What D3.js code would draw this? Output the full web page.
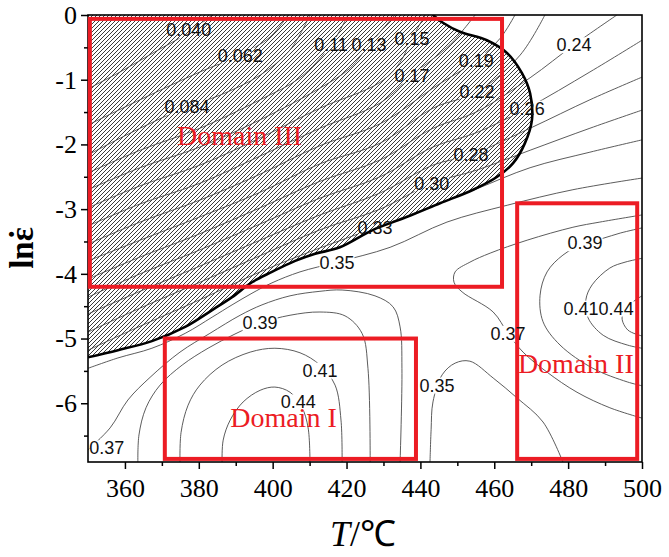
<!DOCTYPE html>
<html><head><meta charset="utf-8">
<script src="https://cdn.jsdelivr.net/npm/d3@7"></script>
<style>body{margin:0;background:#fff}</style>
</head><body>
<svg id="chart" width="669" height="557"></svg>
<script>
// ---- axes ----
const xDomain = [350, 500];
const yDomain = [0, -6.908];
const xTicks = [360, 380, 400, 420, 440, 460, 480, 500];
const xMinor = [370, 390, 410, 430, 450, 470, 490];
const yTicks = [0, -1, -2, -3, -4, -5, -6];
const yMinor = [-0.5, -1.5, -2.5, -3.5, -4.5, -5.5, -6.5];

// ---- contour lines (T, ln strain rate) ----
const c040 = [[350,-1.14],[358.7,-0.88],[368.1,-0.57],[377.6,-0.26],[383.6,0]];
const c062 = [[350,-1.70],[364.1,-1.31],[380.3,-0.88],[391.2,-0.62],[399.3,-0.34],[404.2,0]];
const c084 = [[350,-2.16],[364.1,-1.75],[376.8,-1.42],[385.7,-1.24],[396.6,-0.93],[404.7,-0.54],[410.1,0]];
const c106 = [[350,-2.44],[364.1,-2.09],[380.3,-1.75],[396.6,-1.31],[407.4,-0.97],[415.8,-0.46],[420.4,0]];
const c128 = [[350,-2.70],[364.1,-2.36],[380.3,-2.04],[396.6,-1.62],[412.8,-1.13],[421.0,-0.82],[426.1,-0.46],[433.1,0]];
const c150 = [[350,-2.98],[364.1,-2.64],[380.3,-2.32],[396.6,-1.90],[412.8,-1.44],[429.1,-1.04],[434.5,-0.73],[437.7,-0.36],[441.3,0]];
const c172 = [[350,-3.26],[364.1,-2.92],[380.3,-2.60],[396.6,-2.18],[412.8,-1.75],[429.1,-1.36],[437.7,-0.93],[448.0,-0.46],[454.8,0]];
const c194 = [[350,-3.54],[364.1,-3.20],[380.3,-2.86],[396.6,-2.46],[412.8,-2.02],[429.1,-1.68],[443.4,-1.13],[455.1,-0.70],[461.6,-0.36],[465.6,0]];
const c216 = [[350,-3.80],[364.1,-3.48],[380.3,-3.12],[396.6,-2.74],[412.8,-2.30],[429.1,-1.98],[443.4,-1.44],[455.3,-1.19],[467.0,-0.62],[473.7,0]];
const c238 = [[350,-4.08],[364.1,-3.74],[380.3,-3.38],[396.6,-2.98],[412.8,-2.57],[429.1,-2.24],[443.4,-1.75],[455.1,-1.50],[469.7,-0.97],[481.6,-0.46],[493.2,0]];
const c260 = [[350,-4.36],[364.1,-4.00],[380.3,-3.63],[396.6,-3.23],[412.8,-2.83],[429.1,-2.50],[443.4,-2.04],[455.1,-1.82],[468.9,-1.44],[485.9,-0.88],[500,-0.39]];
const c282 = [[350,-4.62],[364.1,-4.27],[380.3,-3.88],[396.6,-3.48],[412.8,-3.09],[429.1,-2.75],[443.4,-2.32],[453.7,-2.16],[469.7,-1.75],[485.9,-1.31],[500,-0.96]];
const c304 = [[350,-4.90],[364.1,-4.53],[380.3,-4.13],[396.6,-3.72],[412.8,-3.32],[429.1,-3.00],[443.1,-2.60],[455.1,-2.40],[469.7,-2.09],[485.9,-1.75],[500,-1.47]];
const c326 = [[350,-5.18],[364.1,-4.81],[380.3,-4.40],[396.6,-3.97],[412.8,-3.60],[427.7,-3.29],[443.4,-2.95],[455.1,-2.69],[469.7,-2.36],[485.9,-2.12],[500,-1.93]];
const c348a = [[350,-5.46],[358.1,-5.30],[367.3,-5.15],[376.3,-4.92],[383.6,-4.67],[389.0,-4.48],[394.4,-4.30],[399.8,-4.14],[407.4,-3.97],[417.4,-3.82],[431.8,-3.59],[447.2,-3.20],[463.5,-2.94],[481.3,-2.70],[500,-2.52]];
const c348b = [[442.6,-6.91],[442.9,-6.41],[443.4,-5.98],[445.9,-5.56],[449.4,-5.38],[453.4,-5.35],[459.7,-5.61],[466.2,-5.92],[473.2,-6.29],[478.6,-6.91]];
const c370a = [[350,-6.72],[356.0,-6.38],[360.8,-5.95],[366.8,-5.60],[374.9,-5.21],[383.0,-4.92],[391.2,-4.64],[397.1,-4.48],[404.7,-4.34],[412.8,-4.27],[418.8,-4.25],[427.7,-4.34],[432.6,-4.51],[434.5,-4.82],[435.0,-5.46],[434.5,-6.91]];
const c370b = [[500,-3.09],[488.6,-3.20],[481.3,-3.28],[468.9,-3.48],[458.9,-3.68],[453.4,-3.82],[449.4,-3.97],[449.1,-4.13],[451.3,-4.28],[459.7,-4.59],[463.7,-4.92],[467.8,-5.21],[474.3,-5.52],[482.4,-5.83],[491.3,-6.07],[500,-6.23]];
const c392a = [[363.5,-6.91],[363.8,-6.49],[365.7,-6.07],[369.5,-5.72],[375.5,-5.41],[382.5,-5.15],[389.8,-4.93],[396.6,-4.76],[404.7,-4.64],[412.8,-4.59],[419.6,-4.65],[424.2,-4.92],[425.8,-5.46],[426.4,-6.91]];
const c392b = [[500,-3.29],[494.1,-3.37],[489.5,-3.45],[484.6,-3.52],[478.6,-3.71],[474.3,-3.97],[472.4,-4.33],[473.2,-4.74],[477.8,-5.10],[486.7,-5.46],[496.0,-5.67],[500,-5.73]];
const c414a = [[374.9,-6.91],[375.2,-6.45],[377.1,-6.03],[380.3,-5.72],[386.3,-5.41],[393.9,-5.21],[400.6,-5.15],[407.4,-5.22],[412.8,-5.41],[416.9,-5.72],[418.5,-6.26],[418.8,-6.91]];
const c414b = [[500,-3.76],[495.4,-3.82],[491.3,-3.91],[486.5,-4.17],[484.8,-4.40],[485.4,-4.68],[489.5,-4.95],[496.0,-5.10],[500,-5.15]];
const c436a = [[386.3,-6.91],[386.6,-6.57],[388.5,-6.26],[392.0,-5.98],[396.6,-5.80],[400.6,-5.75],[404.7,-5.83],[407.9,-6.06],[409.6,-6.38],[410.1,-6.91]];
const c436b = [[500,-4.34],[496.2,-4.50],[494.6,-4.68],[496.2,-4.87],[500,-4.96]];

// flow-instability boundary
const boundary = [[350,-5.29],[358.1,-5.18],[367.3,-5.04],[376.3,-4.82],[383.6,-4.56],[389.0,-4.36],[394.4,-4.13],[399.8,-3.97],[406.1,-3.80],[411.5,-3.69],[418.2,-3.59],[427.2,-3.32],[436.4,-3.12],[445.3,-2.91],[454.3,-2.70],[460.8,-2.50],[465.1,-2.29],[468.3,-1.98],[470.2,-1.62],[469.7,-1.21],[467.5,-0.90],[463.5,-0.59],[458.0,-0.39],[450.7,-0.26],[446.1,-0.12],[443.4,0]];

// contour labels
const labelText = ["0.040","0.062","0.084","0.11","0.13","0.15","0.17","0.19","0.22","0.24","0.26","0.28","0.30","0.33","0.35","0.39","0.41","0.44","0.37","0.35","0.37","0.39","0.41","0.44"];
const labelT = [377.3,391.2,376.8,415.8,426.1,437.7,437.7,455.1,455.3,481.6,468.9,453.7,443.1,427.7,417.4,396.6,412.8,406.9,355.1,444.5,463.7,484.6,483.5,493.0];
const labelL = [-0.23,-0.62,-1.42,-0.46,-0.46,-0.36,-0.93,-0.70,-1.19,-0.46,-1.44,-2.16,-2.60,-3.29,-3.82,-4.76,-5.49,-5.98,-6.69,-5.72,-4.92,-3.52,-4.53,-4.53];

// domains
const domainNames = ["Domain III", "Domain I", "Domain II"];
const domainT0 = [350.5, 370.8, 466.2];
const domainT1 = [462.1, 438.8, 498.7];
const domainL0 = [-0.06, -5.00, -2.91];
const domainL1 = [-4.20, -6.86, -6.86];
const domainTextT = [374.1, 388.5, 466.4];
const domainTextL = [-2.01, -6.37, -5.53];

// ---- drawing ----
const W = 669, H = 557;
const SERIF = "'Liberation Serif', 'Times New Roman', serif";
const svg = d3.select("#chart");
const x = d3.scaleLinear().domain(xDomain).range([88, 642]);
const y = d3.scaleLinear().domain(yDomain).range([15, 462]);

const defs = svg.append("defs");
const pat = defs.append("pattern").attr("id", "hatch")
  .attr("patternUnits", "userSpaceOnUse").attr("width", 4).attr("height", 4);
pat.append("path").attr("d", "M-1,1 l2,-2 M0,4 l4,-4 M3,5 l2,-2")
  .attr("stroke", "#3a3a3a").attr("stroke-width", 1);
defs.append("clipPath").attr("id", "plotclip").append("rect")
  .attr("x", x(xDomain[0])).attr("y", y(yDomain[0]))
  .attr("width", x(xDomain[1]) - x(xDomain[0])).attr("height", y(yDomain[1]) - y(yDomain[0]));
const mask = defs.append("mask").attr("id", "lblmask").attr("maskUnits", "userSpaceOnUse")
  .attr("x", 0).attr("y", 0).attr("width", W).attr("height", H);
mask.append("rect").attr("width", W).attr("height", H).attr("fill", "white");

const line = d3.line().x(d => x(d[0])).y(d => y(d[1])).curve(d3.curveCatmullRom.alpha(0.5));

const plot = svg.append("g").attr("clip-path", "url(#plotclip)");

// hatched instability region
plot.append("path")
  .attr("d", line(boundary) + `L${x(350)},${y(0)}Z`)
  .attr("fill", "url(#hatch)").attr("stroke", "none");

// contour lines
const contourSet = [c040,c062,c084,c106,c128,c150,c172,c194,c216,c238,c260,c282,c304,c326,c348a,c348b,c370a,c370b,c392a,c392b,c414a,c414b,c436a,c436b];
plot.append("g").attr("mask", "url(#lblmask)")
  .selectAll("path").data(contourSet).join("path")
  .attr("d", d => line(d)).attr("fill", "none")
  .attr("stroke", "#4a4a4a").attr("stroke-width", 0.9);

// boundary
plot.append("path").attr("d", line(boundary)).attr("fill", "none")
  .attr("stroke", "#000").attr("stroke-width", 2.6);

// frame
svg.append("rect").attr("x", x(350)).attr("y", y(0))
  .attr("width", x(500) - x(350)).attr("height", y(-6.908) - y(0))
  .attr("fill", "none").attr("stroke", "#000").attr("stroke-width", 1.6);

// axes
const ax = svg.append("g").attr("transform", `translate(0,${y(-6.908)})`)
  .call(d3.axisBottom(x).tickValues(xTicks).tickSize(7).tickPadding(10).tickFormat(d => String(d)));
const axm = svg.append("g").attr("transform", `translate(0,${y(-6.908)})`)
  .call(d3.axisBottom(x).tickValues(xMinor).tickSize(4).tickFormat(""));
const ay = svg.append("g").attr("transform", `translate(${x(350)},0)`)
  .call(d3.axisLeft(y).tickValues(yTicks).tickSize(7).tickPadding(4).tickFormat(d => String(d)));
const aym = svg.append("g").attr("transform", `translate(${x(350)},0)`)
  .call(d3.axisLeft(y).tickValues(yMinor).tickSize(4).tickFormat(""));
[ax, axm, ay, aym].forEach(g => {
  g.attr("font-family", null).attr("font-size", null);
  g.select(".domain").remove();
  g.selectAll("line").attr("stroke", "#000").attr("stroke-width", 1.5);
  g.selectAll("text").style("font-family", SERIF).style("font-size", "26px").attr("fill", "#000");
});

// red domain boxes
svg.append("g").selectAll("rect").data(domainNames).join("rect")
  .attr("x", (d, i) => x(domainT0[i])).attr("y", (d, i) => y(domainL0[i]))
  .attr("width", (d, i) => x(domainT1[i]) - x(domainT0[i]))
  .attr("height", (d, i) => y(domainL1[i]) - y(domainL0[i]))
  .attr("fill", "none").attr("stroke", "#ec1c24").attr("stroke-width", 4);

// contour labels
const labels = svg.append("g").selectAll("text").data(labelText).join("text")
  .attr("x", (d, i) => x(labelT[i])).attr("y", (d, i) => y(labelL[i]))
  .attr("text-anchor", "middle").attr("dy", "0.36em")
  .attr("font-family", "'Liberation Sans', Arial, sans-serif").attr("font-size", 18)
  .attr("fill", "#111").text(d => d);
labels.each(function () {
  const b = this.getBBox();
  mask.append("rect").attr("x", b.x).attr("y", b.y + 2)
    .attr("width", b.width).attr("height", b.height - 4).attr("fill", "black");
});

// domain names
svg.append("g").selectAll("text").data(domainNames).join("text")
  .attr("x", (d, i) => x(domainTextT[i])).attr("y", (d, i) => y(domainTextL[i]))
  .style("font-family", SERIF).style("font-size", "28px")
  .attr("fill", "#ec1c24").text(d => d);

// axis titles
const yl = svg.append("g").attr("transform", "translate(33,248) rotate(-90)");
const ylt = yl.append("text").attr("text-anchor", "middle")
  .style("font-family", SERIF).style("font-weight", "bold").style("font-size", "33px")
  .text("ln\u03B5");
const ext = ylt.node().getExtentOfChar(2);
yl.append("text").attr("x", ext.x + ext.width / 2).attr("y", -1)
  .attr("text-anchor", "middle")
  .style("font-family", SERIF).style("font-weight", "bold").style("font-size", "33px")
  .text("\u02D9");
const xt = svg.append("text").attr("x", 330).attr("y", 546)
  .style("font-family", SERIF).style("font-size", "36px");
xt.append("tspan").style("font-style", "italic").text("T");
xt.append("tspan").text("/\u2103");
</script>
</body></html>
